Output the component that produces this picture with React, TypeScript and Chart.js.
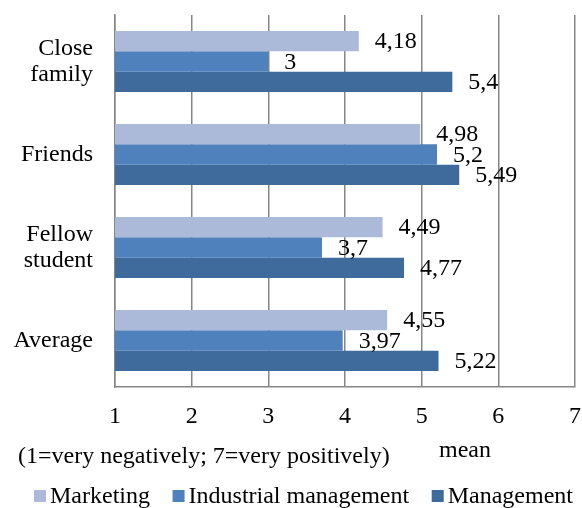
import React, { useEffect, useRef } from "react";
import { Chart, registerables } from "chart.js";

Chart.register(...registerables);

const FONT = "'Liberation Serif', 'Times New Roman', serif";
const SIZE = 24;

const categories: (string | string[])[] = [
  ["Close", "family"],
  "Friends",
  ["Fellow", "student"],
  "Average",
];
const seriesNames = ["Marketing", "Industrial management", "Management"];
const marketing = [4.18, 4.98, 4.49, 4.55];
const industrial = [3, 5.2, 3.7, 3.97];
const management = [5.4, 5.49, 4.77, 5.22];
const seriesColors = ["#AABAD8", "#4F81BD", "#3F6A9C"];
const xTicks = [1, 2, 3, 4, 5, 6, 7];
const axisTitle = "mean";
const scaleNote = "(1=very negatively; 7=very positively)";

// Value labels to the right of each bar, decimal comma.
const valueLabels = {
  id: "valueLabels",
  afterDatasetsDraw(chart: any) {
    const ctx = chart.ctx;
    ctx.save();
    ctx.font = `${SIZE}px ${FONT}`;
    ctx.fillStyle = "#000";
    ctx.textAlign = "left";
    ctx.textBaseline = "middle";
    chart.data.datasets.forEach((ds: any, di: number) => {
      const meta = chart.getDatasetMeta(di);
      meta.data.forEach((bar: any, i: number) => {
        const txt = String(ds.data[i]).replace(".", ",");
        ctx.fillText(txt, bar.x + 16, bar.y + 1);
      });
    });
    ctx.restore();
  },
};

// Axis caption, scale note and the legend row under the plot.
const footer = {
  id: "footer",
  afterDraw(chart: any) {
    const ctx = chart.ctx;
    ctx.save();
    ctx.font = `${SIZE}px ${FONT}`;
    ctx.fillStyle = "#000";
    ctx.textBaseline = "alphabetic";

    ctx.textAlign = "center";
    ctx.fillText(axisTitle, 465, 457);
    ctx.textAlign = "left";
    ctx.fillText(scaleNote, 18, 463);

    // legend
    const startX = 34;
    const endX = 573;
    const box = 12;
    const textOff = 16;
    const widths = seriesNames.map((n) => ctx.measureText(n).width);
    const used = widths.reduce((a, w) => a + textOff + w, 0);
    const gap = (endX - startX - used) / (seriesNames.length - 1);
    let x = startX;
    const cy = 496;
    ctx.textBaseline = "middle";
    seriesNames.forEach((n, i) => {
      ctx.fillStyle = seriesColors[i];
      ctx.fillRect(x, cy - box / 2, box, box);
      ctx.fillStyle = "#000";
      ctx.fillText(n, x + textOff, cy + 1);
      x += textOff + widths[i] + gap;
    });
    ctx.restore();
  },
};

export default function App() {
  const canvasRef = useRef<HTMLCanvasElement | null>(null);

  useEffect(() => {
    if (!canvasRef.current) return;
    Chart.defaults.font.family = FONT;
    const chart = new Chart(canvasRef.current, {
      type: "bar",
      data: {
        labels: categories,
        datasets: [
          { label: seriesNames[0], data: marketing, backgroundColor: seriesColors[0] },
          { label: seriesNames[1], data: industrial, backgroundColor: seriesColors[1] },
          { label: seriesNames[2], data: management, backgroundColor: seriesColors[2] },
        ],
      },
      options: {
        indexAxis: "y",
        responsive: false,
        animation: false,
        layout: { padding: { top: 15, right: 7, left: 0, bottom: 0 } },
        datasets: {
          bar: { categoryPercentage: 0.655, barPercentage: 1 },
        },
        plugins: {
          legend: { display: false },
          tooltip: { enabled: false },
          title: { display: false },
        },
        scales: {
          x: {
            min: 1,
            max: 7,
            afterBuildTicks(scale: any) {
              scale.ticks = xTicks.map((v) => ({ value: v }));
            },
            afterFit(scale: any) {
              scale.height = 121;
              scale.paddingLeft = 0;
              scale.paddingRight = 0;
              scale.paddingTop = 0;
              scale.paddingBottom = 0;
            },
            ticks: {
              color: "#000",
              font: { size: SIZE, family: FONT },
              padding: 15,
              maxRotation: 0,
            },
            grid: { color: "#868686", lineWidth: 1.5, drawTicks: false },
            border: { display: true, color: "#868686", width: 1.5 },
          },
          y: {
            afterFit(scale: any) {
              scale.width = 115;
              scale.paddingLeft = 0;
              scale.paddingRight = 0;
              scale.paddingTop = 0;
              scale.paddingBottom = 0;
            },
            ticks: {
              color: "#000",
              font: { size: SIZE, family: FONT, lineHeight: 1.06 },
              padding: 22,
            },
            grid: { display: false, drawTicks: false },
            border: { display: true, color: "#868686", width: 1.5 },
          },
        },
      },
      plugins: [valueLabels, footer],
    });
    return () => chart.destroy();
  }, []);

  return (
    <div style={{ position: "absolute", left: 0, top: 0, width: 582, height: 508, background: "#fff" }}>
      <canvas ref={canvasRef} width={582} height={508} />
    </div>
  );
}
